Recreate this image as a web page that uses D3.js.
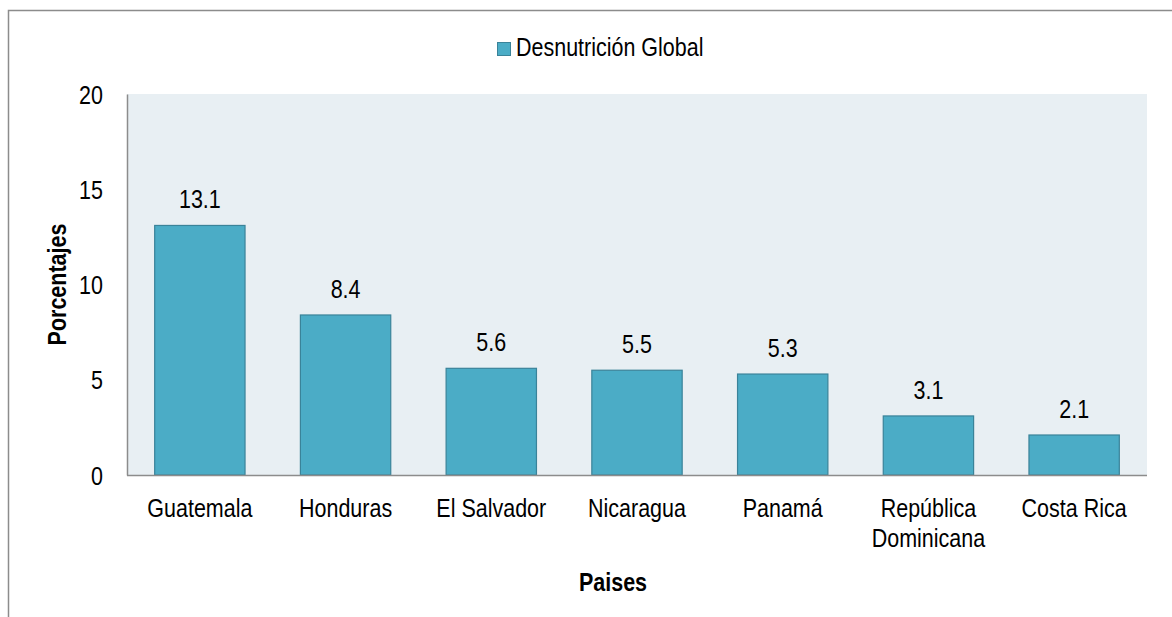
<!DOCTYPE html>
<html><head><meta charset="utf-8">
<script src="https://cdn.jsdelivr.net/npm/d3@7"></script>
<style>
body{margin:0;background:#fff;}
text{font-family:"Liberation Sans Narrow","Liberation Sans",Arial,sans-serif;fill:#000;}
</style></head>
<body><svg id="c" width="1172" height="617"></svg>
<script>
const categories = ["Guatemala","Honduras","El Salvador","Nicaragua","Panamá","República Dominicana","Costa Rica"];
const values = [13.1, 8.4, 5.6, 5.5, 5.3, 3.1, 2.1];
const yTicks = [0, 5, 10, 15, 20];
const seriesName = "Desnutrición Global";

const svg = d3.select("#c");
const W = 1172, H = 617;
const m = {left:127, top:94, right:1147, bottom:475};
const FS = 25, SX = 0.86;

// narrow text helper: places text at (x,y) compressed horizontally
function ntext(parent, x, y, str, anchor, extra) {
  const g = parent.append("g").attr("transform", `translate(${x},${y})${extra||""} scale(${SX},1)`);
  return g.append("text").attr("text-anchor", anchor || "start").attr("font-size", FS).text(str);
}

// outer border
svg.append("path").attr("d", `M8.5,${H} V10.5 H${W}`).attr("fill","none").attr("stroke","#8c8c8c").attr("stroke-width",1.5);

// plot background
svg.append("rect").attr("x",m.left).attr("y",m.top).attr("width",m.right-m.left).attr("height",m.bottom-m.top).attr("fill","#e8eff3");

const x = d3.scaleBand().domain(categories).range([m.left, m.right]).paddingInner(0.38).paddingOuter(0.19);
const y = d3.scaleLinear().domain([0,20]).range([m.bottom, m.top]);

// bars
svg.selectAll("rect.bar").data(values).join("rect").attr("class","bar")
  .attr("x",(d,i)=>x(categories[i])).attr("width",x.bandwidth())
  .attr("y",d=>y(d)).attr("height",d=>y(0)-y(d))
  .attr("fill","#4bacc6").attr("stroke","#3a8399").attr("stroke-width",1.2);

// value labels
values.forEach((d,i)=>ntext(svg, x(categories[i])+x.bandwidth()/2, y(d)-17, d.toFixed(1), "middle"));

// axes
const yAxis = d3.axisLeft(y).tickValues(yTicks).tickSize(0).tickFormat("");
const gy = svg.append("g").attr("transform",`translate(${m.left},0)`).call(yAxis);
gy.select(".domain").attr("stroke","#8c8c8c").attr("stroke-width",1.5);
gy.selectAll(".tick").each(function(d){ ntext(d3.select(this), -24, 9, String(d), "end"); });

const xAxis = d3.axisBottom(x).tickSize(0).tickFormat("");
const gx = svg.append("g").attr("transform",`translate(0,${m.bottom})`).call(xAxis);
gx.select(".domain").attr("stroke","#8c8c8c").attr("stroke-width",1.5).attr("d",`M${m.left},0.5H${m.right}`);
gx.selectAll(".tick").each(function(d){
  const words = d === "República Dominicana" ? ["República","Dominicana"] : [d];
  words.forEach((w,i)=>ntext(d3.select(this), 0, 42+i*30, w, "middle"));
});

// axis titles
ntext(svg, 613, 591, "Paises", "middle").attr("font-weight","bold");
ntext(svg, 66, (m.top+m.bottom)/2, "Porcentajes", "middle", " rotate(-90)").attr("font-weight","bold");

// legend
svg.append("rect").attr("x",497.5).attr("y",42.5).attr("width",13).attr("height",13).attr("fill","#4bacc6").attr("stroke","#3a8399").attr("stroke-width",1);
ntext(svg, 516, 56, seriesName, "start");
</script></body></html>
